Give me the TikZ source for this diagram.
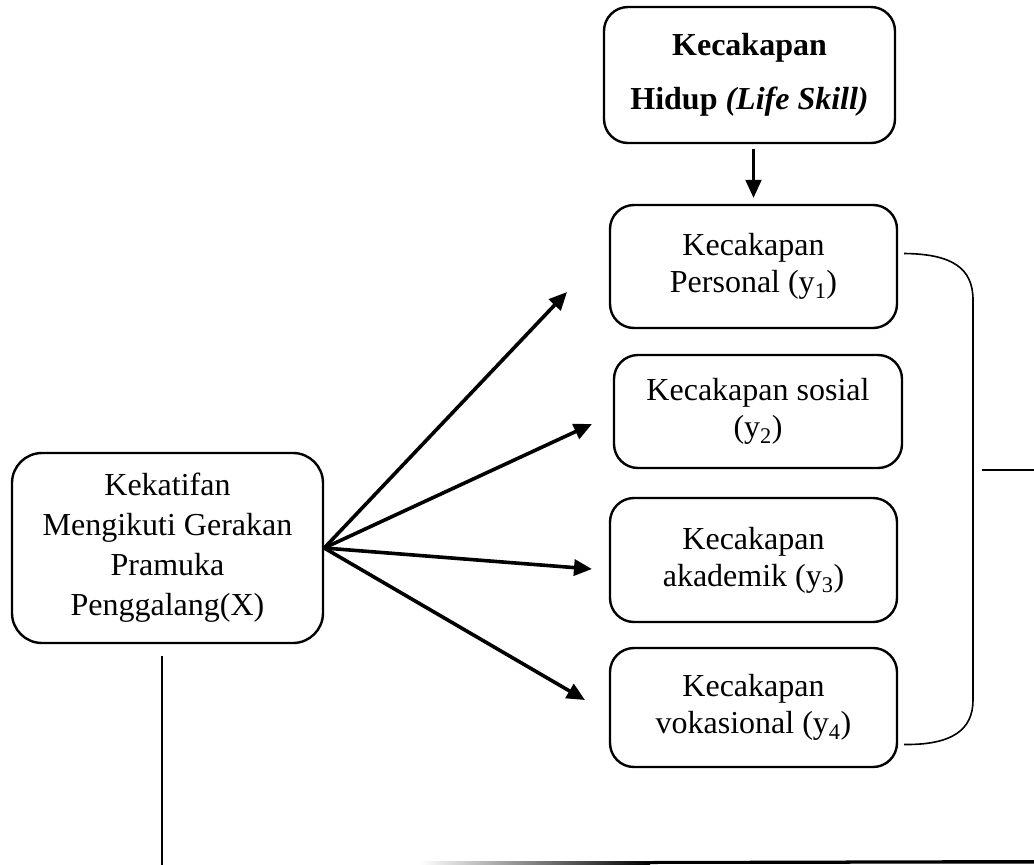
\documentclass[tikz,border=0pt]{standalone}
\usepackage{fontspec}
\setmainfont{Liberation Serif}
\usetikzlibrary{arrows.meta, positioning}

\begin{document}
\begin{tikzpicture}[
        x=1pt, y=-1pt,
        font=\fontsize{32}{37}\selectfont,
        >={Triangle[length=18pt,width=16pt]},
        box/.style={
            draw=black,
            line width=2.4pt,
            rounded corners=24pt,
            align=center,
            inner sep=0pt,
            minimum width=287pt,
            minimum height=#1
        },
        panah/.style={->, line width=3.6pt},
        garis/.style={line width=1.6pt}
    ]
        \useasboundingbox (0,0) rectangle (1034,865);

        \node[box=136pt, minimum width=291pt] (kh) at (749.5,75)   {\textbf{Kecakapan}\\[17pt]\textbf{Hidup \textit{(Life Skill)}}};
        \node[box=123pt] (y1) at (753.5,266.5) {Kecakapan\\Personal (y\textsubscript{1})};
        \node[box=113pt, minimum width=288pt] (y2) at (758,411.5) {Kecakapan sosial\\(y\textsubscript{2})};
        \node[box=124pt] (y3) at (753.5,560)   {Kecakapan\\akademik (y\textsubscript{3})};
        \node[box=119pt] (y4) at (753.5,707.5) {Kecakapan\\vokasional (y\textsubscript{4})};

        \node[box=190pt, minimum width=311pt, rounded corners=30pt, font=\fontsize{32}{40}\selectfont] (x) at (167.5,548)
            {Kekatifan\\Mengikuti Gerakan\\Pramuka\\Penggalang(X)};

        \coordinate (t1) at (567,292);
        \coordinate (t2) at (592,424);
        \coordinate (t3) at (592,569);
        \coordinate (t4) at (585,700);

        \draw[->, line width=2.2pt, shorten <=5pt, shorten >=6pt] (kh.south -| y1.north) -- (y1.north);

        \draw[panah] (x.east) -- (t1);
        \draw[panah] (x.east) -- (t2);
        \draw[panah] (x.east) -- (t3);
        \draw[panah] (x.east) -- (t4);

        \coordinate (b1) at ([xshift=6pt,yshift=13pt]y1.east);
        \coordinate (b2) at ([xshift=6pt,yshift=-37pt]y4.east);
        \draw[garis] (b1) .. controls (952,254) and (973,268) .. (973,300)
            -- (973,700) .. controls (973,730) and (952,745) .. (b2);
        \coordinate (k1) at (982,470);
        \coordinate (k2) at (1034,470);
        \draw[line width=2pt] (k1) -- (k2);

        \coordinate (v1) at ([xshift=-6pt,yshift=-12pt]x.south);
        \coordinate (v2) at (161.5,865);
        \draw[line width=2pt] (v1) -- (v2);

        \shade[left color=white, right color=black] (420,861) rectangle (650,864);
        \fill (650,861) -- (1034,860) -- (1034,863.5) -- (650,864) -- cycle;

    \end{tikzpicture}
\end{document}
